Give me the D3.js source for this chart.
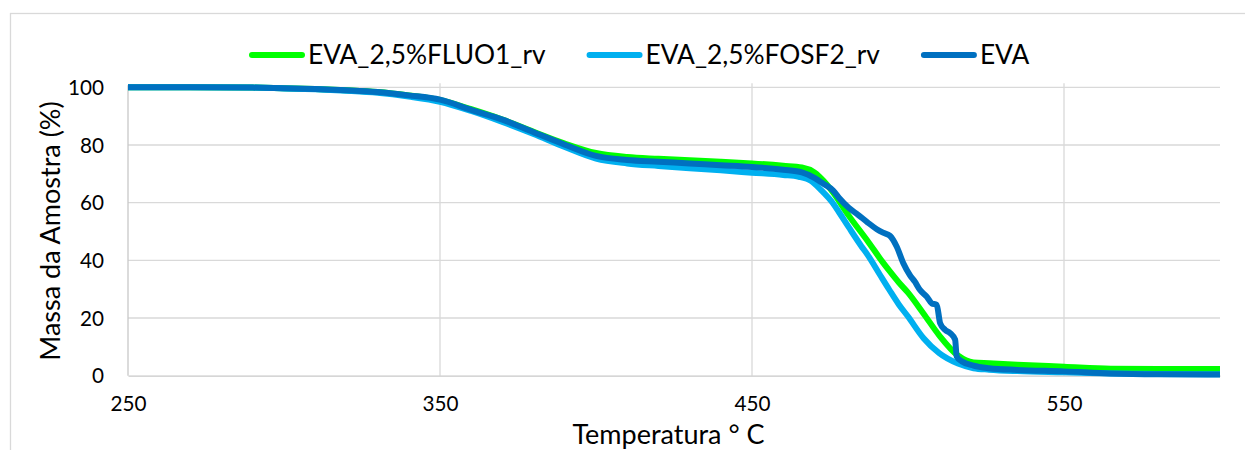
<!DOCTYPE html>
<html><head><meta charset="utf-8">
<script src="https://cdn.jsdelivr.net/npm/d3@7"></script>
<style>body{margin:0;background:#fff}svg{display:block}text{font-family:Lato,"Open Sans",sans-serif;fill:#000}</style>
</head><body><svg id="c" width="1245" height="450"></svg>
<script>
const seriesNames = ["EVA_2,5%FLUO1_rv", "EVA_2,5%FOSF2_rv", "EVA"];
const seriesColors = ["#00FF00", "#00B0F0", "#0070C0"];
const xTicks = [250, 350, 450, 550];
const yTicks = [0, 20, 40, 60, 80, 100];

const fluoT = [250,270,290,300,310,320,330,340,350,360,370,380,390,400,410,420,430,440,450,460,466,470,473,476,481,487,492,494,497,500,505,510,516,521,526,535,550,565,580,600];
const fluoM = [100,100,99.9,99.7,99.4,99,98.4,97.2,95.6,92.4,88.8,84.6,80.5,77.2,75.8,75.2,74.7,74.2,73.6,72.8,72.2,70.5,67.5,63.5,55.5,46.8,39.2,36.4,32.4,28.8,21.5,14,7,4.6,4.3,3.8,3.1,2.4,2.3,2.3];

const fosfT = [250,270,290,300,310,320,330,340,350,360,370,380,390,400,410,420,430,440,450,460,465,469,472,476,478,481,485,487,491,494,497,500,505,510,516,521,526,535,550,565,580,600];
const fosfM = [100,100,99.9,99.6,99.3,98.8,98.1,96.8,95,91.8,88,83.8,79.3,75.3,73.6,72.7,71.9,71.2,70.4,69.6,69,67.5,64.5,59.7,56.5,51.5,45,42,35,29.8,24.8,20.5,13,7.8,4.2,2.6,2.1,1.6,1.2,0.8,0.6,0.5];

const evaT = [250,270,290,300,310,320,330,340,350,360,370,380,390,400,410,420,430,440,450,460,466,470,473,476,478,481,484,487,490,492,494.2,496.4,498.5,500.6,502.2,503.8,506,507.6,509.2,510.3,511.9,513.5,515.1,515.6,517.2,521,526,535,550,565,580,600];
const evaM = [100,100,99.9,99.7,99.4,99,98.4,97.2,95.7,92.2,88.8,84.4,80.1,76.2,74.8,74.2,73.6,73.0,72.4,71.4,70.5,68.6,66.5,64.2,61.5,58.2,55.8,53.2,50.8,49.6,48.5,44.7,39.0,34.9,32.6,29.8,27.4,25.1,24.6,18.2,15.9,14.8,12.5,6.7,5.0,3.5,2.6,2.0,1.5,0.8,0.5,0.4];

const series = [
  {name: seriesNames[0], color: seriesColors[0], T: fluoT, M: fluoM},
  {name: seriesNames[1], color: seriesColors[1], T: fosfT, M: fosfM},
  {name: seriesNames[2], color: seriesColors[2], T: evaT, M: evaM}
];

const svg = d3.select("#c");
const L = 128, R = 1220, T = 87.3, B = 375.7;
const x = d3.scaleLinear().domain([250, 600]).range([L, R]);
const y = d3.scaleLinear().domain([0, 100]).range([B, T]);

// frame
svg.append("rect").attr("x", 10.5).attr("y", 13.5).attr("width", 1300).attr("height", 600)
  .attr("fill", "none").attr("stroke", "#d9d9d9").attr("stroke-width", 1.3);

// gridlines
svg.append("g").selectAll("line").data(yTicks.filter(d => d > 0)).join("line")
  .attr("x1", L).attr("x2", R).attr("y1", d => y(d)).attr("y2", d => y(d))
  .attr("stroke", "#d9d9d9").attr("stroke-width", 1.3);
svg.append("g").selectAll("line").data(xTicks.filter(d => d > 250)).join("line")
  .attr("x1", d => x(d)).attr("x2", d => x(d)).attr("y1", T - 4).attr("y2", B)
  .attr("stroke", "#d9d9d9").attr("stroke-width", 1.3);

// axes
const yAxis = d3.axisLeft(y).tickValues(yTicks).tickSize(0).tickPadding(24);
const gy = svg.append("g").attr("transform", `translate(${L},0)`).call(yAxis);
gy.select(".domain").attr("stroke", "#c8c8c8").attr("stroke-width", 1.3).attr("d", `M0,${T-2}V${B}`);
gy.selectAll("text").attr("font-size", 20.7).attr("font-family", "Lato").attr("dy", "0.35em");

const xAxis = d3.axisBottom(x).tickValues(xTicks).tickSize(0).tickPadding(21);
const gx = svg.append("g").attr("transform", `translate(0,${B})`).call(xAxis);
gx.select(".domain").attr("stroke", "#c8c8c8").attr("stroke-width", 1.3);
gx.selectAll("text").attr("font-size", 20.7).attr("font-family", "Lato");

// titles
svg.append("text").attr("x", 668.5).attr("y", 444).attr("text-anchor", "middle")
  .attr("font-size", 27).text("Temperatura ° C");
svg.append("text").attr("transform", "translate(60,231) rotate(-90)").attr("text-anchor", "middle")
  .attr("font-size", 27).text("Massa da Amostra (%)");

// lines
const line = d3.line().x(d => x(d[0])).y(d => y(d[1])).curve(d3.curveMonotoneX);
svg.append("g").selectAll("path").data(series).join("path")
  .attr("d", s => line(s.T.map((t, i) => [t, s.M[i]])))
  .attr("fill", "none").attr("stroke", s => s.color).attr("stroke-width", 6)
  .attr("stroke-linejoin", "round");

// legend
const lg = svg.append("g");
let lx = 250;
const ly = 55;
series.forEach(s => {
  lg.append("line").attr("x1", lx + 2).attr("x2", lx + 52).attr("y1", ly).attr("y2", ly)
    .attr("stroke", s.color).attr("stroke-width", 6).attr("stroke-linecap", "round");
  const t = lg.append("text").attr("x", lx + 58).attr("y", ly).attr("dy", "0.36em")
    .attr("font-size", 26.3).text(s.name);
  lx = lx + 58 + t.node().getComputedTextLength() + 42;
});
</script></body></html>
